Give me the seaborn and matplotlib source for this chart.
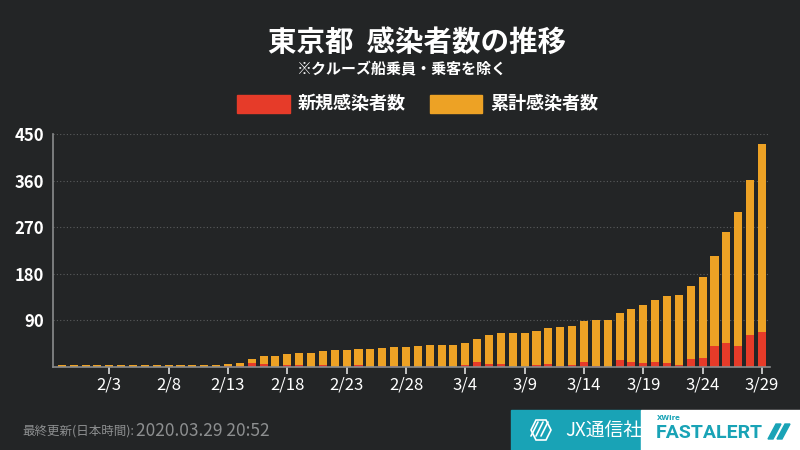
import pandas as pd
import numpy as np
import matplotlib.pyplot as plt
import seaborn as sns
from matplotlib.patches import Rectangle, Polygon

# data (1/30 .. 3/29, 2020)
dates = pd.date_range("2020-01-30", "2020-03-29", freq="D")
labels = [f"{d.month}/{d.day}" for d in dates]

cumulative = [4, 4, 4, 4, 4, 4, 4, 4, 4, 4, 4, 4, 4, 4,
              6, 8, 16, 22, 22, 25, 28, 28, 31, 32, 32, 35, 35, 37, 39, 39,
              40, 42, 42, 43, 46, 55, 61, 66, 66, 66, 69, 75, 77, 80, 89,
              91, 91, 104, 113, 120, 130, 137, 140, 156, 173, 214, 260, 300, 362, 430]
new_cases = [1, 0, 0, 0, 0, 0, 0, 0, 0, 0, 0, 0, 0, 0,
             2, 2, 8, 6, 0, 3, 3, 0, 3, 1, 0, 3, 0, 2, 2, 0,
             1, 2, 0, 1, 3, 9, 6, 5, 0, 0, 3, 6, 2, 3, 9,
             2, 0, 13, 9, 7, 10, 7, 3, 16, 17, 41, 46, 40, 62, 68]

tick_dates = ["2/3", "2/8", "2/13", "2/18", "2/23", "2/28", "3/4",
              "3/9", "3/14", "3/19", "3/24", "3/29"]
y_ticks = [90, 180, 270, 360, 450]

df = pd.DataFrame({"date": labels, "cumulative": cumulative, "new": new_cases})

bg = "#232526"
red = "#e63b29"
orange = "#eda225"
teal = "#19a3b6"

sns.set_theme(style="dark")
plt.rcParams["font.family"] = ["Noto Sans CJK JP", "DejaVu Sans"]

fig = plt.figure(figsize=(8, 4.5), dpi=100, facecolor=bg)
ax = fig.add_axes([0.066, 0.1844, 0.8965, 0.5178])
ax.set_facecolor(bg)

sns.barplot(data=df, x="date", y="cumulative", color=orange, width=0.68,
            edgecolor="none", saturation=1, ax=ax)
sns.barplot(data=df, x="date", y="new", color=red, width=0.68,
            edgecolor="none", saturation=1, ax=ax)

ax.set_xlim(-0.76, len(df) - 1 + 0.68)
ax.set_ylim(0, 450)
ax.set_yticks(y_ticks)
ax.set_yticklabels([str(v) for v in y_ticks], color="white", fontsize=12, fontweight="bold")
pos = [labels.index(t) for t in tick_dates]
ax.set_xticks(pos)
ax.set_xticklabels(tick_dates, color="white", fontsize=12)
ax.set_xlabel("")
ax.set_ylabel("")
ax.tick_params(axis="x", length=5, width=1.2, color="#dddddd", pad=2, bottom=True)
ax.tick_params(axis="y", length=0, pad=6)
ax.yaxis.grid(True, color="#5a5c5d", linestyle=(0, (1, 2)), linewidth=0.8)
ax.xaxis.grid(False)
ax.set_axisbelow(True)
for s in ["top", "right"]:
    ax.spines[s].set_visible(False)
for s in ["left", "bottom"]:
    ax.spines[s].set_visible(True)
    ax.spines[s].set_color("#8a8c8d")
    ax.spines[s].set_linewidth(1.2)

# titles
fig.text(0.521, 0.905, "東京都  感染者数の推移", color="white", fontsize=20.5,
         fontweight="bold", ha="center", va="center")
fig.text(0.503, 0.845, "※クルーズ船乗員・乗客を除く", color="white", fontsize=10.8,
         fontweight="bold", ha="center", va="center")

# legend
fig.patches.append(Rectangle((237 / 800, 1 - 113 / 450), 53 / 800, 18 / 450,
                             transform=fig.transFigure, color=red))
fig.text(298 / 800, 1 - 104 / 450, "新規感染者数", color="white", fontsize=13,
         fontweight="bold", va="center")
fig.patches.append(Rectangle((430 / 800, 1 - 113 / 450), 52 / 800, 18 / 450,
                             transform=fig.transFigure, color=orange))
fig.text(490 / 800, 1 - 104 / 450, "累計感染者数", color="white", fontsize=13,
         fontweight="bold", va="center")

# footer
fig.text(22 / 800, 1 - 431 / 450, "最終更新(日本時間):", color="#8d8f90", fontsize=9,
         va="center")
fig.text(136 / 800, 1 - 431 / 450, "2020.03.29 20:52", color="#8d8f90", fontsize=12.5,
         va="center")
fig.patches.append(Rectangle((511 / 800, 0), 130 / 800, 40 / 450,
                             transform=fig.transFigure, color=teal))
fig.patches.append(Rectangle((641 / 800, 0), 159 / 800, 40 / 450,
                             transform=fig.transFigure, color="white"))

# JX logo mark: hexagon outline with slanted stripes
cx, cy = 541, 430
hexagon = [(cx - 10, cy), (cx - 5, cy - 10), (cx + 5, cy - 10),
           (cx + 10, cy), (cx + 5, cy + 10), (cx - 5, cy + 10)]
fig.patches.append(Polygon([(x / 800, 1 - y / 450) for x, y in hexagon], closed=True,
                           fill=False, edgecolor="white", linewidth=1.2,
                           transform=fig.transFigure))
for dx in (-7, -2, 3):
    stripe = [(cx + dx - 3, cy + 6), (cx + dx + 4, cy - 8)]
    fig.lines.append(plt.Line2D([p[0] / 800 for p in stripe], [1 - p[1] / 450 for p in stripe],
                                color="white", linewidth=1.2, transform=fig.transFigure))
fig.text(565 / 800, 1 - 431 / 450, "JX通信社", color="white", fontsize=13.5, va="center")

fig.text(657 / 800, 1 - 418 / 450, "XWire", color=teal, fontsize=5,
         fontweight="bold", va="center", family=["DejaVu Sans"])
fig.text(656 / 800, 1 - 433 / 450, "FASTALERT", color=teal, fontsize=14,
         fontweight="bold", va="center", family=["Roboto", "DejaVu Sans"])
# slanted marks after FASTALERT
for dx in (0, 9):
    para = [(768 + dx, 439), (776 + dx, 424), (781 + dx, 424), (773 + dx, 439)]
    fig.patches.append(Polygon([(x / 800, 1 - y / 450) for x, y in para], closed=True,
                               color=teal, transform=fig.transFigure))

fig.savefig("out.png", dpi=100, facecolor=bg)
